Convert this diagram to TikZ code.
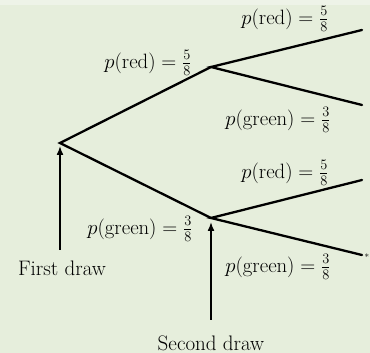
\documentclass[tikz,border=0pt]{standalone}
\usepackage{tikz}
\usetikzlibrary{arrows.meta, positioning}
\definecolor{bgpale}{HTML}{E6EEDC}
\definecolor{bgtop}{HTML}{EEF3E8}

\begin{document}
\begin{tikzpicture}[x=1pt, y=1pt,
  branch/.style={line width=2.3pt, line cap=round},
  pointer/.style={line width=1.5pt, -{Latex[length=9pt, width=7pt]}},
  prob/.style={font=\fontsize{20.5}{23}\selectfont, inner sep=0pt},
  caption/.style={font=\fontsize{21}{23}\selectfont, inner sep=0pt}
]
  % background
  \fill[bgpale] (0,0) rectangle (370,353);
  \fill[bgtop] (0,348) rectangle (370,353);
  \useasboundingbox (0,0) rectangle (370,353);

  % tree points
  \coordinate (root) at (60,210);
  \coordinate (up) at (211,286);
  \coordinate (lo) at (211,135);
  \coordinate (rr) at (362,323);
  \coordinate (rg) at (362,248);
  \coordinate (gr) at (362,173);
  \coordinate (gg) at (362,98);

  % branches
  \draw[branch] (rr) -- (up) -- (rg);
  \draw[branch] (up) -- (root) -- (lo);
  \draw[branch] (gr) -- (lo) -- (gg);
  \node[inner sep=0pt, font=\small] (star) at (367,96) {*};

  % probabilities
  \node[prob] (pr1) at (148,290) {$p(\mathrm{red}) = \frac{5}{8}$};
  \node[prob] (pg1) at (140,124) {$p(\mathrm{green}) = \frac{3}{8}$};
  \node[prob] (prr) at (285,334) {$p(\mathrm{red}) = \frac{5}{8}$};
  \node[prob] (prg) at (278,233) {$p(\mathrm{green}) = \frac{3}{8}$};
  \node[prob] (pgr) at (285,180) {$p(\mathrm{red}) = \frac{5}{8}$};
  \node[prob] (pgg) at (278,86) {$p(\mathrm{green}) = \frac{3}{8}$};

  % draws
  \node[caption] (first) at (62,85) {First draw};
  \node[caption] (second) at (211,10) {Second draw};
  \coordinate (firsttail) at (60,103);
  \coordinate (firsttip) at (60,207);
  \coordinate (secondtail) at (211,33);
  \coordinate (secondtip) at (211,131);
  \draw[pointer] (firsttail) -- (firsttip);
  \draw[pointer] (secondtail) -- (secondtip);
\end{tikzpicture}
\end{document}
